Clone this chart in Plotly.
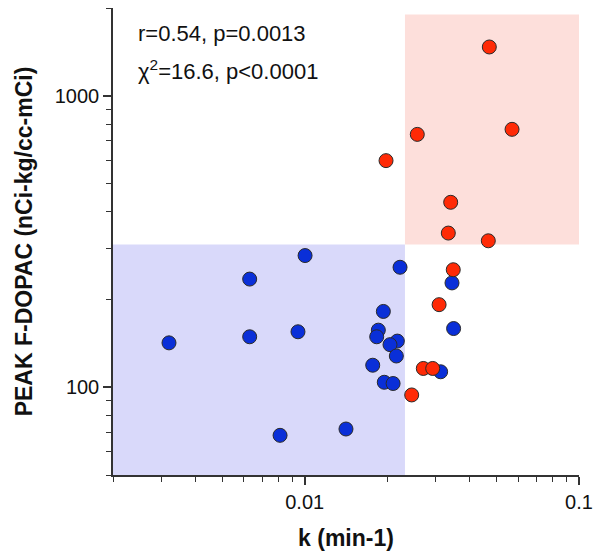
import plotly.graph_objects as go
import math

# Data
blue_k = [0.01003, 0.02226, 0.0063, 0.03443, 0.01935, 0.0349, 0.01855, 0.0183, 0.0063, 0.00945,
          0.0032, 0.02176, 0.02046, 0.02158, 0.0177, 0.0313, 0.0195, 0.021, 0.01414, 0.00813]
blue_peak = [283, 258, 235, 228, 182, 159, 157, 149, 149, 155,
             142, 144, 140, 128, 119, 113, 104, 103, 71.9, 68.4]
red_k = [0.0471, 0.0570, 0.02573, 0.01979, 0.03406, 0.03338, 0.0467, 0.0348, 0.0309, 0.02706, 0.02928, 0.02455]
red_peak = [1470, 767, 737, 599, 431, 338, 318, 253, 192, 116, 116, 94.1]

x_range = [0.002, 0.1]
y_range = [50, 2000]
k_cut = 0.0232
peak_cut = 309
red_top = 1900
red_right = 0.1025

x_major = [0.01, 0.1]
x_major_text = ["0.01", "0.1"]
x_minor = [0.002, 0.003, 0.004, 0.005, 0.006, 0.007, 0.008, 0.009,
           0.02, 0.03, 0.04, 0.05, 0.06, 0.07, 0.08, 0.09]
y_major = [100, 1000]
y_major_text = ["100", "1000"]
y_minor = [50, 60, 70, 80, 90, 200, 300, 400, 500, 600, 700, 800, 900, 2000]

ann1 = "r=0.54, p=0.0013"
ann2 = "χ<sup>2</sup>=16.6, p<0.0001"

fig = go.Figure()
fig.add_shape(type="rect", xref="x", yref="y", x0=x_range[0], x1=k_cut, y0=y_range[0], y1=peak_cut,
              fillcolor="rgb(217,217,250)", line_width=0, layer="below")
fig.add_shape(type="rect", xref="x", yref="y", x0=k_cut, x1=red_right, y0=peak_cut, y1=red_top,
              fillcolor="rgb(253,223,219)", line_width=0, layer="below")

marker_line = dict(color="#2a2a2a", width=1)
fig.add_trace(go.Scatter(x=blue_k, y=blue_peak, mode="markers",
                         marker=dict(size=14, color="#0a2fd8", line=marker_line), showlegend=False))
fig.add_trace(go.Scatter(x=red_k, y=red_peak, mode="markers",
                         marker=dict(size=14, color="#ff2a06", line=marker_line), showlegend=False))

font_family = "Liberation Sans, Arial, sans-serif"
axis_common = dict(showline=True, linecolor="#333333", linewidth=1.5, showgrid=False, zeroline=False,
                   ticks="outside", ticklen=8, tickwidth=1.5, tickcolor="#333333",
                   tickfont=dict(family=font_family, size=20, color="#111111"))

fig.update_xaxes(type="log", range=[math.log10(x_range[0]), math.log10(x_range[1])],
                 tickvals=x_major, ticktext=x_major_text,
                 minor=dict(tickvals=x_minor, ticks="outside", ticklen=5, tickwidth=1.2, tickcolor="#333333"),
                 title=dict(text="<b>k (min-1)</b>", font=dict(family=font_family, size=23, color="#111111"), standoff=18),
                 **axis_common)
fig.update_yaxes(type="log", range=[math.log10(y_range[0]), math.log10(y_range[1])],
                 tickvals=y_major, ticktext=y_major_text,
                 minor=dict(tickvals=y_minor, ticks="outside", ticklen=5, tickwidth=1.2, tickcolor="#333333"),
                 title=dict(text="<b>PEAK F-DOPAC (nCi-kg/cc-mCi)</b>", font=dict(family=font_family, size=23, color="#111111"), standoff=16),
                 **axis_common)

fig.add_annotation(xref="paper", yref="paper", x=0.05, y=0.946, xanchor="left", yanchor="middle",
                   text=ann1, showarrow=False, font=dict(family=font_family, size=22, color="#111111"))
fig.add_annotation(xref="paper", yref="paper", x=0.05, y=0.867, xanchor="left", yanchor="middle",
                   text=ann2, showarrow=False, font=dict(family=font_family, size=22, color="#111111"))

fig.update_layout(width=601, height=557, margin=dict(l=113, r=22, t=8, b=82, autoexpand=False),
                  plot_bgcolor="white", paper_bgcolor="white")

fig.write_html("out.html", config={"displayModeBar": False},
               post_script="document.body.style.margin='0';document.body.style.padding='0';")
